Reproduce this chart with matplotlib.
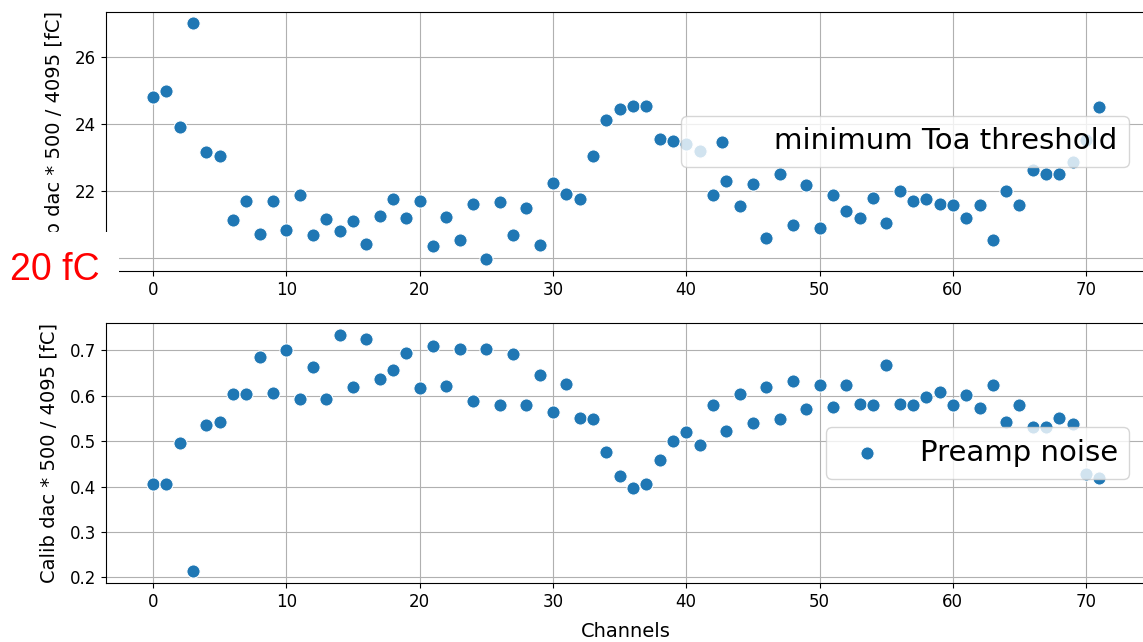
import numpy as np
import matplotlib
matplotlib.use("Agg")
import matplotlib.pyplot as plt
from matplotlib.patches import Rectangle

channels = list(range(72))

toa_threshold = [
    24.79, 24.99, 23.91, 26.99, 23.16, 23.05, 21.13, 21.71, 20.71, 21.71,
    20.84, 21.88, 20.68, 21.18, 20.81, 21.10, 20.43, 21.26, 21.75, 21.21,
    21.71, 20.35, 21.22, 20.53, 21.60, 19.97, 21.67, 20.68, 21.51, 20.38,
    22.25, 21.92, 21.75, 23.05, 24.13, 24.45, 24.52, 24.53, 23.54, 23.49,
    23.41, 23.18, 21.88, 22.30, 21.55, 22.22, 20.60, 22.50, 21.00, 22.18,
    20.91, 21.88, 21.42, 21.21, 21.79, 21.04, 22.00, 21.71, 21.75, 21.62,
    21.59, 21.21, 21.59, 20.55, 22.00, 21.59, 22.62, 22.50, 22.50, 22.87,
    23.51, 24.50,
]

preamp_noise = [
    0.405, 0.405, 0.495, 0.213, 0.535, 0.543, 0.604, 0.604, 0.685, 0.607,
    0.700, 0.594, 0.664, 0.592, 0.735, 0.620, 0.725, 0.638, 0.657, 0.694,
    0.617, 0.710, 0.622, 0.704, 0.588, 0.704, 0.579, 0.692, 0.579, 0.645,
    0.564, 0.626, 0.551, 0.549, 0.477, 0.424, 0.396, 0.405, 0.458, 0.501,
    0.521, 0.492, 0.580, 0.523, 0.605, 0.539, 0.620, 0.549, 0.632, 0.570,
    0.623, 0.575, 0.623, 0.582, 0.579, 0.667, 0.582, 0.579, 0.597, 0.608,
    0.579, 0.602, 0.573, 0.623, 0.543, 0.579, 0.531, 0.531, 0.551, 0.537,
    0.427, 0.420,
]

threshold_line = 20
ylabel_text = "Calib dac * 500 / 4095 [fC]"

W, H = 1143, 642
fig = plt.figure(figsize=(W / 100, H / 100), dpi=100)

def px_axes(left, right, top, bottom):
    return [left / W, 1 - bottom / H, (right - left) / W, (bottom - top) / H]

ax1 = fig.add_axes(px_axes(105.7, 1146.8, 11.7, 271.0))
ax2 = fig.add_axes(px_axes(105.7, 1146.8, 322.7, 583.3))

color = "#1f77b4"
ms = 90

ax1.scatter(channels, toa_threshold, s=ms, color=color, edgecolors="white",
            linewidths=0.75, label="minimum Toa threshold", zorder=3)
ax2.scatter(channels, preamp_noise, s=ms, color=color, edgecolors="white",
            linewidths=0.75, label="Preamp noise", zorder=3)

for ax in (ax1, ax2):
    ax.grid(True, zorder=0)
    ax.set_axisbelow(True)
    ax.tick_params(labelsize=12)
    ax.set_ylabel(ylabel_text, fontsize=14, labelpad=8)
    ax.legend(loc="center right", fontsize=21, borderaxespad=0.6)

ax2.set_xlabel("Channels", fontsize=14, labelpad=8)

# white mask over the lower-left of the top panel and the red annotation
mask_top, mask_bottom, mask_right = 231.7, 300.0, 119.3
fig.patches.append(Rectangle((0, 1 - mask_bottom / H), mask_right / W,
                             (mask_bottom - mask_top) / H,
                             transform=fig.transFigure, facecolor="white",
                             edgecolor="none", zorder=10))
fig.text(10 / W, 1 - 280 / H, f"{threshold_line} fC", color="red",
         fontsize=27, family="Liberation Sans", va="baseline", ha="left",
         zorder=11)

fig.savefig("out.png", dpi=100)
